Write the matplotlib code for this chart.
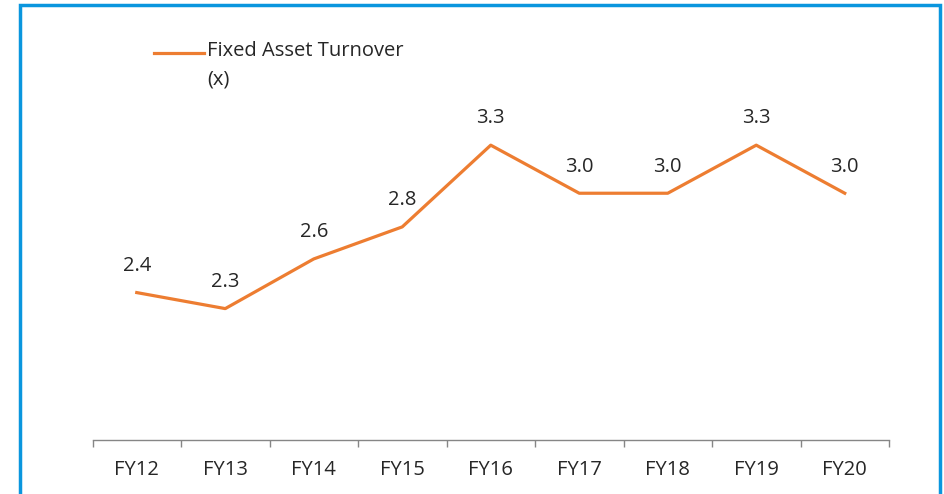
import numpy as np
import matplotlib.pyplot as plt
from matplotlib.patches import Rectangle

years = ['FY12', 'FY13', 'FY14', 'FY15', 'FY16', 'FY17', 'FY18', 'FY19', 'FY20']
turnover = [2.38, 2.28, 2.59, 2.79, 3.30, 3.00, 3.00, 3.30, 3.00]

orange = '#ED7D31'
text_col = '#262626'
W, H = 944, 494

plt.rcParams['font.family'] = ['Open Sans', 'DejaVu Sans']

fig = plt.figure(figsize=(W / 100, H / 100), dpi=100)
ax = fig.add_axes([92.5 / W, 54 / H, (889 - 92.5) / W, (440 - 33) / H])

x = np.arange(len(years))
ax.plot(x, turnover, color=orange, lw=2.3, solid_joinstyle='round')

for xi, v in zip(x, turnover):
    ax.annotate(f'{v:.1f}', xy=(xi, v), xytext=(0, 12), textcoords='offset points',
                ha='center', va='bottom', fontsize=14.5, color=text_col)

ax.set_xlim(-0.5, len(years) - 0.5)
ax.set_ylim(1.46, 4.0)

# boundaries ticks (Excel style), labels at category centres
ax.set_xticks(np.arange(-0.5, len(years)))
ax.set_xticklabels([])
ax.set_xticks(x, minor=True)
ax.set_xticklabels(years, minor=True, fontsize=14.5, color=text_col)
ax.tick_params(axis='x', which='major', length=5, color='#868686', width=1)
ax.tick_params(axis='x', which='minor', length=0, pad=14.5)
ax.set_yticks([])

for s in ['top', 'right', 'left']:
    ax.spines[s].set_visible(False)
ax.spines['bottom'].set_color('#868686')
ax.spines['bottom'].set_linewidth(1)

# legend drawn by hand
fig.lines.append(plt.Line2D([154 / W, 204 / W], [1 - 53 / H, 1 - 53 / H],
                            transform=fig.transFigure, color=orange, lw=2.3))
fig.text(207 / W, 1 - 41 / H, 'Fixed Asset Turnover\n(x)', ha='left', va='top',
         fontsize=14.5, color=text_col, linespacing=1.6,
         transform=fig.transFigure)

# blue frame around chart
fig.patches.append(Rectangle((20 / W, -0.1), (940 - 20) / W, 1.1 - 5 / H,
                             transform=fig.transFigure, fill=False,
                             edgecolor='#0A96DE', lw=2.5))

fig.savefig('out.png', dpi=100)
